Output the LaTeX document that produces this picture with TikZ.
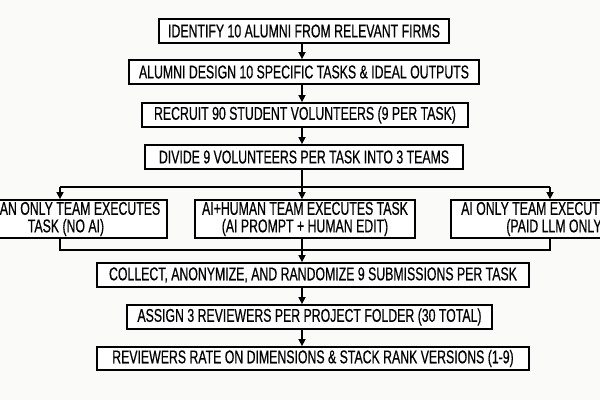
\documentclass[tikz,border=0pt]{standalone}
\usepackage{fontspec}
\setmainfont{Liberation Sans}[FakeStretch=0.665,FakeBold=0.5]
\usetikzlibrary{arrows.meta}
\definecolor{bg}{HTML}{FAFAF8}
\begin{document}
\begin{tikzpicture}[x=1pt,y=-1pt,
  box/.style={draw, line width=1.8pt, fill=white, inner sep=0pt,
    font=\fontsize{18.5}{17.5}\selectfont, align=center},
  arr/.style={line width=1.5pt, -{Triangle[length=7pt,width=7pt]}},
  ln/.style={line width=1.5pt}]
\fill[bg] (0,0) rectangle (600,400);
\useasboundingbox (0,0) rectangle (600,400);
\clip (0,0) rectangle (600,400);

\node[box, minimum width=290pt, minimum height=24pt] (b1) at (304,31) {IDENTIFY 10 ALUMNI FROM RELEVANT FIRMS};
\node[box, minimum width=350pt, minimum height=24pt] (b2) at (304,72) {ALUMNI DESIGN 10 SPECIFIC TASKS \& IDEAL OUTPUTS};
\node[box, minimum width=326pt, minimum height=24pt] (b3) at (305,115) {RECRUIT 90 STUDENT VOLUNTEERS (9 PER TASK)};
\node[box, minimum width=318pt, minimum height=24pt] (b4) at (304,157) {DIVIDE 9 VOLUNTEERS PER TASK INTO 3 TEAMS};

\node[box, minimum width=202pt, minimum height=38pt] (L) at (66,219) {HUMAN ONLY TEAM EXECUTES\\TASK (NO AI)};
\node[box, minimum width=220pt, minimum height=38pt] (M) at (305,219) {AI+HUMAN TEAM EXECUTES TASK\\(AI PROMPT + HUMAN EDIT)};
\node[box, minimum width=210pt, minimum height=38pt] (R) at (556,219) {AI ONLY TEAM EXECUTES TASK\\(PAID LLM ONLY)};

\node[box, minimum width=432pt, minimum height=24pt] (b5) at (313,275) {COLLECT, ANONYMIZE, AND RANDOMIZE 9 SUBMISSIONS PER TASK};
\node[box, minimum width=365pt, minimum height=24pt] (b6) at (309.5,317) {ASSIGN 3 REVIEWERS PER PROJECT FOLDER (30 TOTAL)};
\node[box, minimum width=432pt, minimum height=23pt] (b7) at (313,358.5) {REVIEWERS RATE ON DIMENSIONS \& STACK RANK VERSIONS (1-9)};

\coordinate (ax) at (302,0);
\coordinate (bl) at (60,187);
\coordinate (bm) at (302,187);
\coordinate (bR) at (550,187);
\coordinate (ml) at (60,250);
\coordinate (mm) at (302,250);
\coordinate (mr) at (550,250);

\draw[arr] (b1.south -| ax) -- (b2.north -| ax);
\draw[arr] (b2.south -| ax) -- (b3.north -| ax);
\draw[arr] (b3.south -| ax) -- (b4.north -| ax);

\draw[ln] (b4.south -| ax) -- (bm);
\draw[ln] (bl) -- (bR);
\draw[arr] (bl) -- (L.north -| bl);
\draw[arr] (bm) -- (M.north -| bm);
\draw[arr] (bR) -- (R.north -| bR);

\draw[ln] (L.south -| ml) -- (ml) -- (mr) -- (R.south -| mr);
\draw[arr] (M.south -| ax) -- (b5.north -| ax);
\draw[arr] (b5.south -| ax) -- (b6.north -| ax);
\draw[arr] (b6.south -| ax) -- (b7.north -| ax);
\end{tikzpicture}
\end{document}
